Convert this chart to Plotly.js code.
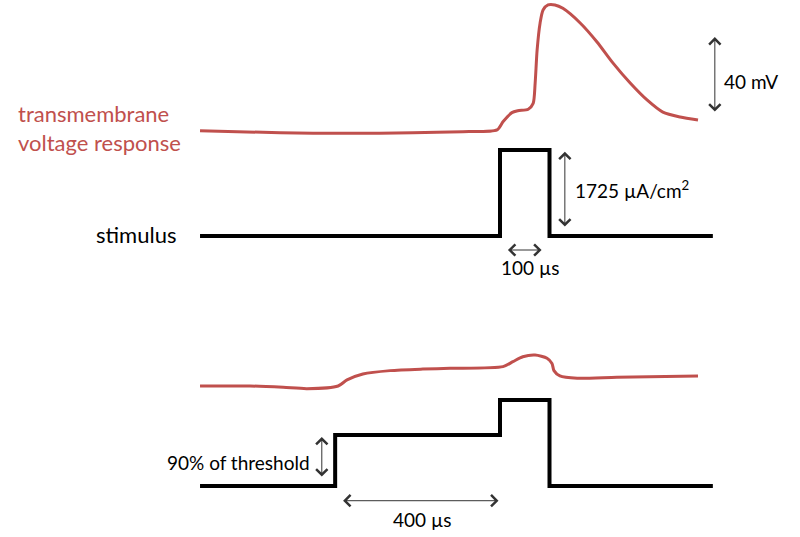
<!DOCTYPE html>
<html>
<head>
<meta charset="utf-8">
<script src="https://cdn.plot.ly/plotly-3.0.1.min.js"></script>
<style>html,body{margin:0;padding:0;background:#fff;}#chart{width:800px;height:537px;}</style>
</head>
<body>
<div id="chart"></div>
<script>
// ---- data (time in µs, pulse onset at 0) ----
// top: single suprathreshold pulse
const topTime    = [-606, -444, -309, -176, -75, -6, 6, 24, 36, 57, 67, 71, 75, 81, 87, 97, 111, 127, 162, 196, 228, 263, 297, 329, 364, 400];
const topVoltage = [-70.0, -71.1, -71.4, -71.1, -70.5, -69.6, -65.3, -60.5, -59.5, -58.7, -55.6, -44.9, -27.5, -13.3, -6.5, -3.8, -3.8, -5.6, -13.3, -23.3, -34.3, -44.9, -53.8, -60.2, -62.8, -64.4];
const topStimTime = [-606, 0, 0, 100, 100, 430];
const topStim     = [0, 0, 1725, 1725, 0, 0];          // µA/cm²

// bottom: 400 µs prepulse at 90% of threshold, then pulse
const botTime    = [-606, -505, -438, -390, -327, -309, -277, -222, -156, -101, 6, 26, 46, 71, 95, 105, 109, 121, 156, 236, 400];
const botVoltage = [-70.0, -70.0, -70.7, -71.4, -70.0, -66.8, -63.7, -61.9, -61.1, -60.7, -59.8, -57.2, -54.6, -53.7, -55.4, -58.1, -61.9, -64.7, -65.9, -65.4, -64.7];
const botStimTime = [-606, -333, -333, 0, 0, 100, 100, 430];
const botStim     = [0, 0, 1023, 1023, 1725, 1725, 0, 0];

const labels = {
  response: 'transmembrane<br>voltage response',
  stimulus: 'stimulus',
  mv: '40 mV',
  amp: '1725 µA/cm<sup>2</sup>',
  dur: '100 µs',
  pre: '90% of threshold',
  preDur: '400 µs'
};

const RED = '#C0504D';
const FONT = 'Lato, "Open Sans", sans-serif';

const traces = [
  {x: topTime, y: topVoltage, xaxis: 'x', yaxis: 'y', mode: 'lines',
   line: {color: RED, width: 3, shape: 'spline', smoothing: 0.7}},
  {x: topStimTime, y: topStim, xaxis: 'x', yaxis: 'y2', mode: 'lines',
   line: {color: '#000', width: 4}},
  {x: botTime, y: botVoltage, xaxis: 'x', yaxis: 'y3', mode: 'lines',
   line: {color: RED, width: 3, shape: 'spline', smoothing: 0.7}},
  {x: botStimTime, y: botStim, xaxis: 'x', yaxis: 'y4', mode: 'lines',
   line: {color: '#000', width: 4}}
];

const H = 537, W = 800;
const px = v => v / W;
const py = v => 1 - v / H;

function arrow(xref, yref, x, y, ax, ay) {
  return {xref: xref, yref: yref, axref: xref, ayref: yref, x: x, y: y, ax: ax, ay: ay,
    text: '', showarrow: true, arrowside: 'end+start', arrowhead: 4, startarrowhead: 4,
    arrowsize: 2.2, startarrowsize: 2.2, arrowwidth: 1, arrowcolor: '#333', standoff: 0, startstandoff: 0};
}
function label(text, x, y, xanchor, size, color) {
  return {xref: 'paper', yref: 'paper', x: px(x), y: py(y), xanchor: xanchor, yanchor: 'middle',
    text: text, showarrow: false, align: 'left', font: {family: FONT, size: size, color: color}};
}

const hidden = {visible: false, fixedrange: true};
const layout = {
  width: W, height: H,
  margin: {l: 0, r: 0, t: 0, b: 0},
  paper_bgcolor: '#fff', plot_bgcolor: '#fff',
  showlegend: false,
  xaxis: Object.assign({range: [-1010.1, 606.06], domain: [0, 1]}, hidden),
  yaxis: Object.assign({range: [-283.84, -1.21], domain: [0, 1]}, hidden),
  yaxis2: Object.assign({range: [-6037.5, 4733.7], overlaying: 'y'}, hidden),
  yaxis3: Object.assign({range: [-149.47, 133.16], overlaying: 'y'}, hidden),
  yaxis4: Object.assign({range: [-1023.0, 9748.2], overlaying: 'y'}, hidden),
  annotations: [
    label(labels.response, 16, 127.5, 'left', 22, RED),
    label(labels.stimulus, 178, 234, 'right', 22, '#000'),
    label(labels.mv, 722, 82, 'left', 19, '#000'),
    label(labels.amp, 573, 190, 'left', 19, '#000'),
    label(labels.dur, 530, 268, 'center', 19, '#000'),
    label(labels.pre, 165, 462, 'left', 19, '#000'),
    label(labels.preDur, 422, 519, 'center', 19, '#000'),
    arrow('x', 'y', 434, -20.7, 434, -60.7),
    arrow('x', 'y2', 131, 1690, 131, 160),
    arrow('x', 'y2', 16, -281, 87, -281),
    arrow('x', 'y4', -360, 983, -360, 160),
    arrow('x', 'y4', -317, -295, 0, -295)
  ]
};

Plotly.newPlot('chart', traces, layout, {staticPlot: true, displayModeBar: false});
</script>
</body>
</html>
